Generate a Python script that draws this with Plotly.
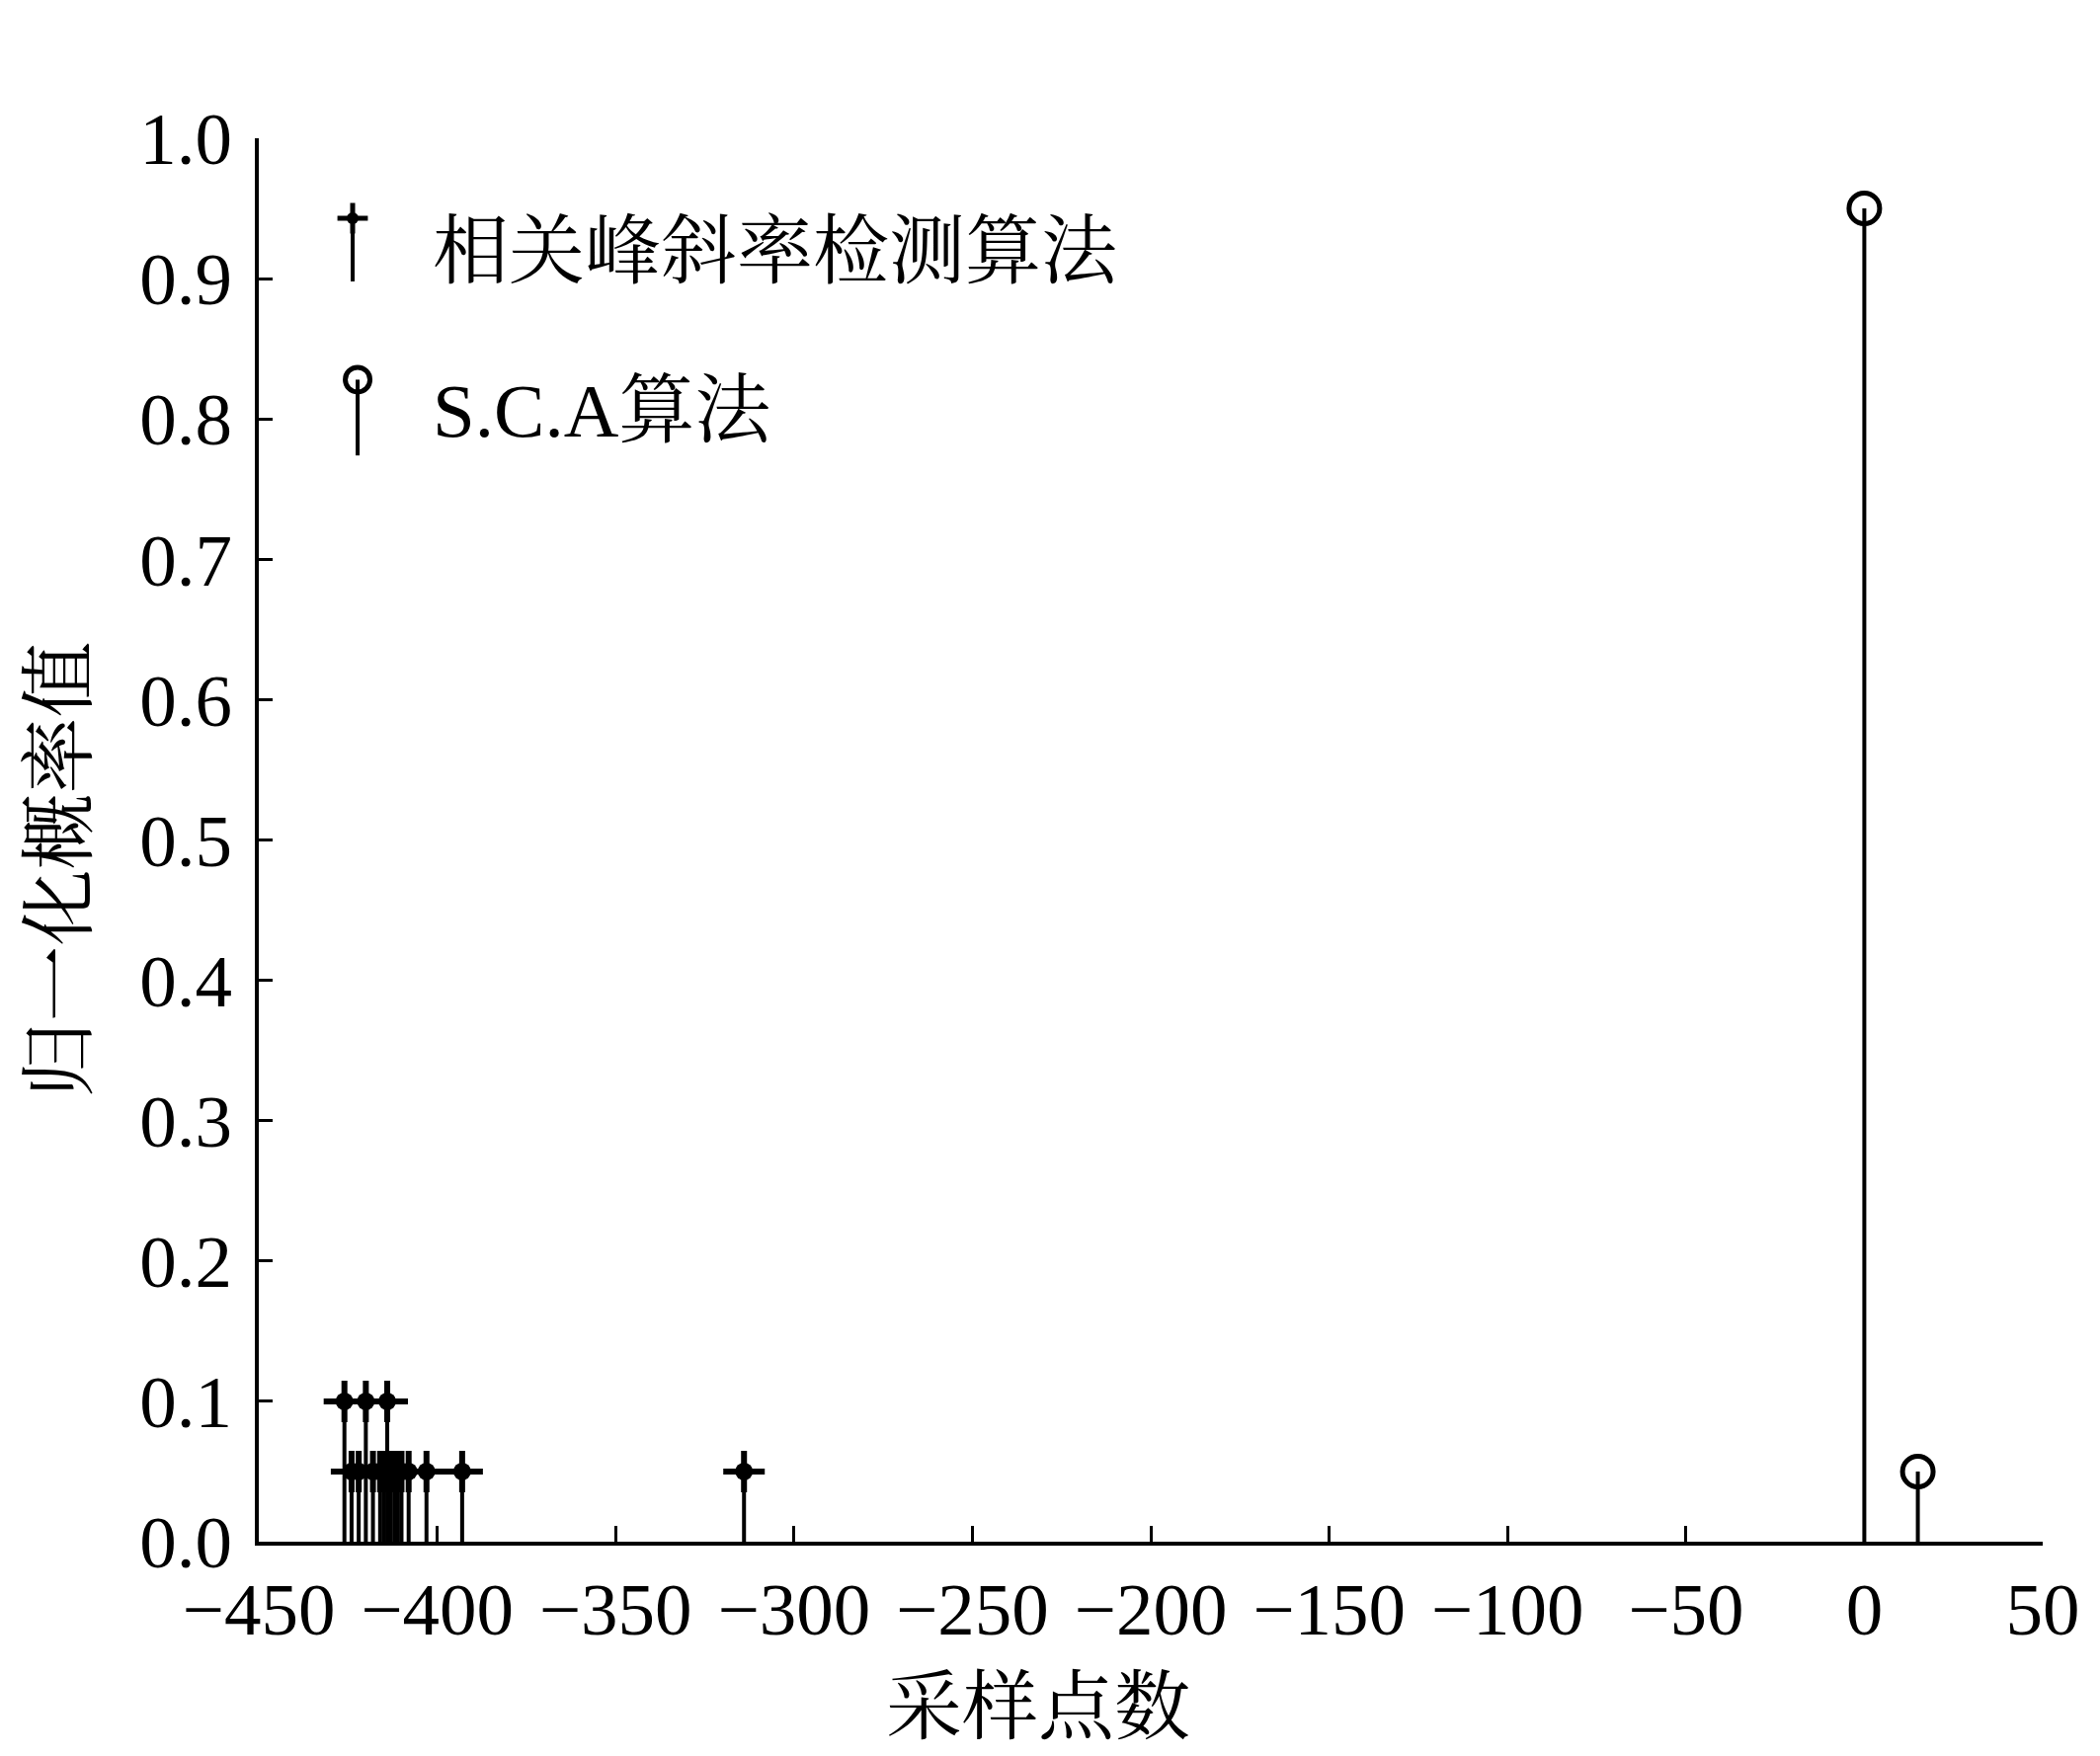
import plotly.graph_objects as go

# sample index vs normalised probability
corr_x = [-426, -420, -414, -424, -422, -418, -416, -415, -413, -412, -411, -410, -408, -403, -393, -314]
corr_y = [0.1, 0.1, 0.1, 0.05, 0.05, 0.05, 0.05, 0.05, 0.05, 0.05, 0.05, 0.05, 0.05, 0.05, 0.05, 0.05]
sca_x = [0, 15]
sca_y = [0.95, 0.05]

x_ticks = [-450, -400, -350, -300, -250, -200, -150, -100, -50, 0, 50]
y_ticks = [0.0, 0.1, 0.2, 0.3, 0.4, 0.5, 0.6, 0.7, 0.8, 0.9, 1.0]

names = ["相关峰斜率检测算法", "S.C.A算法"]
x_title = "采样点数"
y_title = "归一化概率值"

FONT = "Liberation Serif, Times New Roman, Noto Serif CJK SC, Noto Sans CJK SC"
BLACK = "black"


def stems(xs, ys):
    sx, sy = [], []
    for a, b in zip(xs, ys):
        sx += [a, a, None]
        sy += [0, b, None]
    return sx, sy


fig = go.Figure()

sx, sy = stems(corr_x, corr_y)
fig.add_trace(go.Scatter(x=sx, y=sy, mode="lines", line=dict(color=BLACK, width=4),
                         showlegend=False, hoverinfo="skip"))
fig.add_trace(go.Scatter(x=corr_x, y=corr_y, mode="markers", name=names[0],
                         marker=dict(symbol="cross-thin-open", size=30, color=BLACK,
                                     line=dict(color=BLACK, width=6)),
                         showlegend=False))
fig.add_trace(go.Scatter(x=corr_x, y=corr_y, mode="markers",
                         marker=dict(symbol="circle", size=18, color=BLACK),
                         showlegend=False, hoverinfo="skip"))

sx, sy = stems(sca_x, sca_y)
fig.add_trace(go.Scatter(x=sx, y=sy, mode="lines", line=dict(color=BLACK, width=4),
                         showlegend=False, hoverinfo="skip"))
fig.add_trace(go.Scatter(x=sca_x, y=sca_y, mode="markers", name=names[1],
                         marker=dict(symbol="circle-open", size=31, color=BLACK,
                                     line=dict(color=BLACK, width=5)),
                         showlegend=False))

# hand-made legend on an invisible overlay axis (stem + marker + label)
fig.add_trace(go.Scatter(x=[0.0526, 0.0526], y=[0.898, 0.951], mode="lines",
                         line=dict(color=BLACK, width=4), xaxis="x2", yaxis="y2",
                         showlegend=False, hoverinfo="skip"))
fig.add_trace(go.Scatter(x=[0.0526], y=[0.943], mode="markers", xaxis="x2", yaxis="y2",
                         marker=dict(symbol="cross-thin-open", size=22, color=BLACK,
                                     line=dict(color=BLACK, width=5)),
                         showlegend=False, hoverinfo="skip"))
fig.add_trace(go.Scatter(x=[0.0526], y=[0.943], mode="markers", xaxis="x2", yaxis="y2",
                         marker=dict(symbol="circle", size=12, color=BLACK),
                         showlegend=False, hoverinfo="skip"))
fig.add_trace(go.Scatter(x=[0.0554, 0.0554], y=[0.774, 0.828], mode="lines",
                         line=dict(color=BLACK, width=4), xaxis="x2", yaxis="y2",
                         showlegend=False, hoverinfo="skip"))
fig.add_trace(go.Scatter(x=[0.0554], y=[0.828], mode="markers", xaxis="x2", yaxis="y2",
                         marker=dict(symbol="circle-open", size=25, color=BLACK,
                                     line=dict(color=BLACK, width=5)),
                         showlegend=False, hoverinfo="skip"))

fig.add_annotation(x=0.0965, y=0.919, xref="x2", yref="y2", text=names[0],
                   showarrow=False, xanchor="left", yanchor="middle",
                   font=dict(family=FONT, size=77, color=BLACK))
fig.add_annotation(x=0.0965, y=0.806, xref="x2", yref="y2", text=names[1],
                   showarrow=False, xanchor="left", yanchor="middle",
                   font=dict(family=FONT, size=77, color=BLACK))

# axis titles (the x title sits left of centre in the original)
fig.add_annotation(x=0.437, y=-0.118, xref="x domain", yref="y domain", text=x_title,
                   showarrow=False, xanchor="center", yanchor="middle",
                   font=dict(family=FONT, size=77, color=BLACK))
fig.add_annotation(x=-0.111, y=0.4785, xref="x domain", yref="y domain", text=y_title,
                   showarrow=False, xanchor="center", yanchor="middle", textangle=-90,
                   font=dict(family=FONT, size=77, color=BLACK))

fig.update_layout(
    width=2126, height=1778,
    margin=dict(l=254, r=66, t=132, b=225),
    paper_bgcolor="white", plot_bgcolor="white",
    font=dict(family=FONT, size=75, color=BLACK),
    xaxis=dict(range=[-450, 50], tickvals=x_ticks, ticks="inside", ticklen=16,
               tickwidth=3, tickcolor=BLACK, showline=True, linewidth=4,
               linecolor=BLACK, showgrid=False, zeroline=False,
               tickfont=dict(family=FONT, size=75)),
    yaxis=dict(range=[0, 1], tickvals=y_ticks, tickformat=".1f", ticks="inside",
               ticklen=14, tickwidth=3, tickcolor=BLACK, showline=True, linewidth=4,
               linecolor=BLACK, showgrid=False, zeroline=False, ticklabelstandoff=8,
               tickfont=dict(family=FONT, size=75)),
    xaxis2=dict(range=[0, 1], overlaying="x", visible=False),
    yaxis2=dict(range=[0, 1], overlaying="y", visible=False),
)

fig.write_html("out.html")
